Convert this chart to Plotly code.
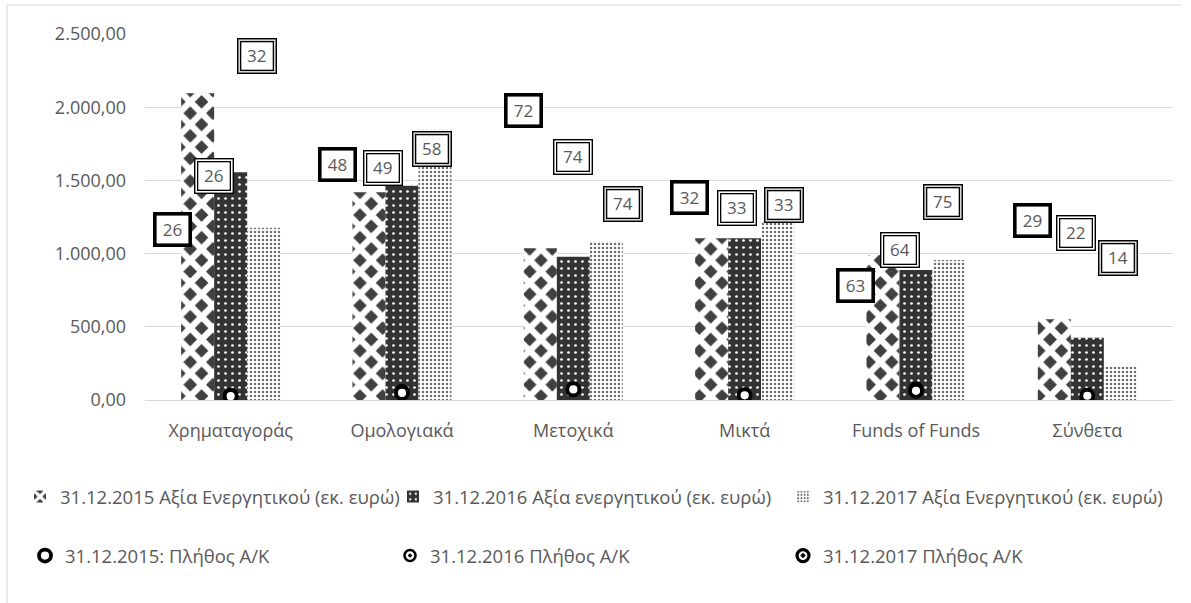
import plotly.graph_objects as go

# Fund categories
categories = ["Χρηματαγοράς", "Ομολογιακά", "Μετοχικά", "Μικτά", "Funds of Funds", "Σύνθετα"]

# Total assets (million euro)
assets_2015 = [2095, 1419, 1036, 1104, 990, 551]
assets_2016 = [1555, 1464, 979, 1104, 888, 426]
assets_2017 = [1177, 1851, 1086, 1218, 956, 228]

# Number of mutual funds
funds_2015 = [26, 48, 72, 32, 63, 29]
funds_2016 = [26, 49, 74, 33, 64, 22]
funds_2017 = [32, 58, 74, 33, 75, 14]

bar_names = [
    "31.12.2015 Αξία Ενεργητικού (εκ. ευρώ)",
    "31.12.2016 Αξία ενεργητικού (εκ. ευρώ)",
    "31.12.2017 Αξία Ενεργητικού (εκ. ευρώ)",
]
count_names = [
    "31.12.2015: Πλήθος Α/Κ",
    "31.12.2016 Πλήθος Α/Κ",
    "31.12.2017 Πλήθος Α/Κ",
]

# Pixel shifts of the count labels relative to their markers
label_shift_2015 = [(-58, 167), (-65, 228), (-50, 279), (-55, 198), (-61, 105), (-55, 175)]
label_shift_2016 = [(-17, 220), (-19, 225), (0, 232), (-8, 187), (-16, 141), (-11, 164)]
label_shift_2017 = [(26, 339), (30, 243), (50, 185), (39, 190), (27, 187), (31, 140)]

TEXT = "#595959"
GRID = "#d9d9d9"
FONT = "Open Sans"

# plot area in pixels
L, R, T, B = 145, 1173, 34, 400
W_FIG, H_FIG = 1191, 603


def px_x(px):
    return (px - L) / (R - L)


def px_y(py):
    return (B - py) / (B - T)


patterns = [
    dict(shape="x", fgcolor="white", bgcolor="#404040", size=16, solidity=0.64, fillmode="replace"),
    dict(shape=".", fgcolor="white", bgcolor="#333333", size=7, solidity=0.12, fillmode="replace"),
    dict(shape=".", fgcolor="#6e6e6e", bgcolor="white", size=4, solidity=0.3, fillmode="replace"),
]

fig = go.Figure()

for i, (name, vals) in enumerate(zip(bar_names, [assets_2015, assets_2016, assets_2017])):
    fig.add_trace(go.Bar(
        x=categories, y=vals, name=name,
        marker=dict(color="#404040", line=dict(width=0), pattern=patterns[i]),
        legend="legend" if i == 0 else f"legend{i + 1}",
    ))

marker_styles = [
    dict(symbol="circle", size=12, color="white", line=dict(color="black", width=3.8)),
    dict(symbol="circle-dot", size=11, color="white", line=dict(color="black", width=2.6)),
    dict(symbol="circle-dot", size=12, color="white", line=dict(color="black", width=3.2)),
]
count_series = [funds_2015, funds_2016, funds_2017]
# later years first so the 2015 ring sits on top
for i in (2, 1, 0):
    fig.add_trace(go.Scatter(
        x=categories, y=count_series[i], name=count_names[i], mode="markers",
        marker=marker_styles[i],
        legend=f"legend{i + 4}",
    ))

# boxed value labels for the fund counts
annotations = []


def add_label(cat, val, shift, style):
    dx, dy = shift
    common = dict(x=cat, y=val, xref="x", yref="y", showarrow=False,
                  xshift=dx, yshift=dy, text=str(val),
                  font=dict(family=FONT, size=17, color=TEXT), borderpad=0)
    if style == "thick":
        annotations.append(dict(common, width=32, height=28, bgcolor="white",
                                bordercolor="black", borderwidth=3.6))
    else:
        gap = "white" if style == "double" else "#d2d2d2"
        outer_font = dict(family=FONT, size=17, color="rgba(0,0,0,0)")
        annotations.append(dict(common, width=37, height=33, bgcolor=gap,
                                bordercolor="black", borderwidth=1.4, font=outer_font))
        annotations.append(dict(common, width=31, height=27, bgcolor="white",
                                bordercolor="black", borderwidth=1.3))


for c, v, s in zip(categories, funds_2015, label_shift_2015):
    add_label(c, v, s, "thick")
for c, v, s in zip(categories, funds_2016, label_shift_2016):
    add_label(c, v, s, "double")
for c, v, s in zip(categories, funds_2017, label_shift_2017):
    add_label(c, v, s, "double-gray")

legend_font = dict(family=FONT, size=18.5, color=TEXT)
# left edge (px) of each legend entry and row centre (px)
legend_left = [[20, 393, 783], [25, 390, 783]]
legend_rows_y = [497, 556]
legends = {}
n = 0
for row, row_y in enumerate(legend_rows_y):
    for lx in legend_left[row]:
        n += 1
        key = "legend" if n == 1 else f"legend{n}"
        legends[key] = dict(
            x=px_x(lx), y=px_y(row_y), xanchor="left", yanchor="middle",
            orientation="h", font=legend_font, bgcolor="rgba(0,0,0,0)",
            itemclick=False, itemdoubleclick=False,
        )

fig.update_layout(
    width=W_FIG, height=H_FIG,
    margin=dict(l=L, r=W_FIG - R, t=T, b=H_FIG - B),
    paper_bgcolor="white", plot_bgcolor="white",
    separators=",.",
    barmode="group", bargap=0.422, bargroupgap=0,
    font=dict(family=FONT, color=TEXT),
    annotations=annotations,
    showlegend=True,
    **legends,
    shapes=[dict(type="path", xref="paper", yref="paper",
                 path=(f"M {px_x(1181)},{px_y(5)} L {px_x(7)},{px_y(5)} "
                       f"L {px_x(7)},{px_y(612)}"),
                 line=dict(color=GRID, width=1), layer="below")],
)

fig.update_yaxes(
    range=[0, 2500], dtick=500, tickformat=",.2f",
    showgrid=True, gridcolor=GRID, gridwidth=1,
    zeroline=True, zerolinecolor=GRID, zerolinewidth=1,
    showline=False, ticks="", ticklabelstandoff=18,
    tickfont=dict(family=FONT, size=18, color=TEXT),
)
fig.update_xaxes(
    showgrid=False, showline=False, ticks="", ticklabelstandoff=18,
    tickfont=dict(family=FONT, size=18, color=TEXT),
)

fig.write_html("out.html")
